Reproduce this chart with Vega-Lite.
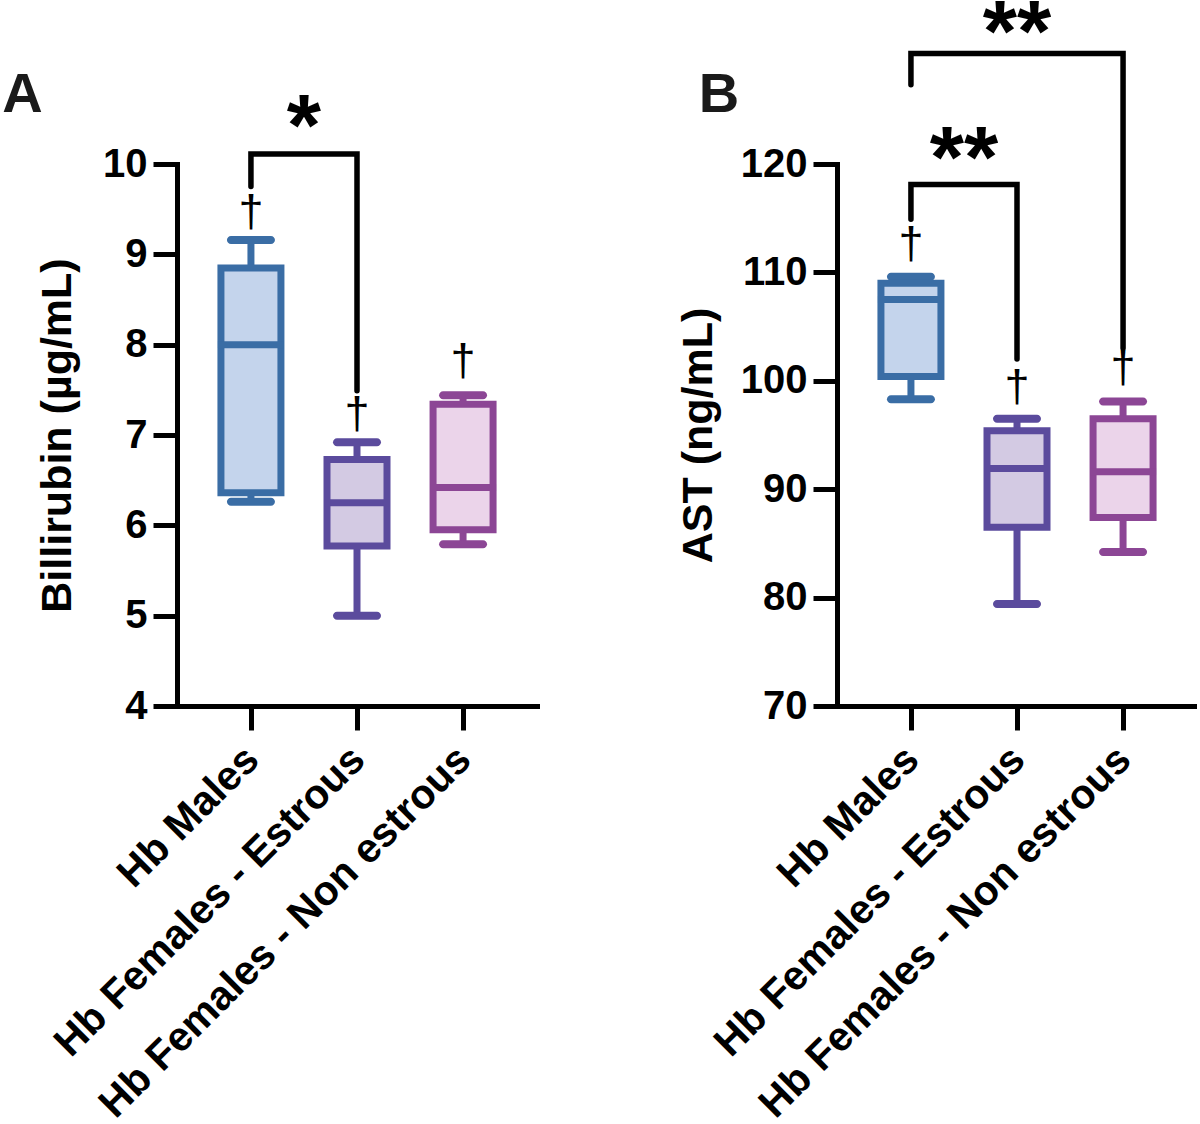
{
  "$schema": "https://vega.github.io/schema/vega-lite/v6.json",
  "background": "white",
  "padding": {"left": 2, "top": -9, "right": 0, "bottom": 0},
  "bounds": "flush",
  "spacing": 300,
  "config": {
    "view": {"stroke": null},
    "font": "Liberation Sans",
    "axis": {
      "domainColor": "black", "domainWidth": 5, "domainCap": "square",
      "tickColor": "black", "tickWidth": 5, "tickSize": 24,
      "labelFont": "Liberation Sans", "labelFontWeight": "bold", "labelFontSize": 40, "labelColor": "black", "labelPadding": 6,
      "titleFont": "Liberation Sans", "titleFontWeight": "bold", "titleFontSize": 43, "titleColor": "black",
      "grid": false, "labelLimit": 1000, "labelOverlap": false
    }
  },
  "datasets": {
    "boxesA": [
      {"g": 0, "group": "Hb Males", "min": 6.26, "q1": 6.36, "median": 8.0, "q3": 8.85, "max": 9.16},
      {"g": 1, "group": "Hb Females - Estrous", "min": 5.0, "q1": 5.77, "median": 6.25, "q3": 6.73, "max": 6.92},
      {"g": 2, "group": "Hb Females - Non estrous", "min": 5.79, "q1": 5.95, "median": 6.42, "q3": 7.34, "max": 7.44}
    ],
    "boxesB": [
      {"g": 0, "group": "Hb Males", "min": 98.3, "q1": 100.4, "median": 107.5, "q3": 109.0, "max": 109.6},
      {"g": 1, "group": "Hb Females - Estrous", "min": 79.4, "q1": 86.5, "median": 91.9, "q3": 95.4, "max": 96.5},
      {"g": 2, "group": "Hb Females - Non estrous", "min": 84.2, "q1": 87.4, "median": 91.6, "q3": 96.5, "max": 98.1}
    ],
    "textA": [
      {"g": 0, "v": 9.47, "label": "†"},
      {"g": 1, "v": 7.23, "label": "†"},
      {"g": 2, "v": 7.82, "label": "†"}
    ],
    "textB": [
      {"g": 0, "v": 112.6, "label": "†"},
      {"g": 1, "v": 99.4, "label": "†"},
      {"g": 2, "v": 101.2, "label": "†"}
    ],
    "bracketsA": [
      {"id": "a1", "ord": 1, "g": 0, "v": 9.75},
      {"id": "a1", "ord": 2, "g": 0, "v": 10.11},
      {"id": "a1", "ord": 3, "g": 1, "v": 10.11},
      {"id": "a1", "ord": 4, "g": 1, "v": 7.49}
    ],
    "bracketsB": [
      {"id": "b1", "ord": 1, "g": 0, "v": 114.9},
      {"id": "b1", "ord": 2, "g": 0, "v": 118.1},
      {"id": "b1", "ord": 3, "g": 1, "v": 118.1},
      {"id": "b1", "ord": 4, "g": 1, "v": 102.0},
      {"id": "b2", "ord": 1, "g": 0, "v": 127.3},
      {"id": "b2", "ord": 2, "g": 0, "v": 130.2},
      {"id": "b2", "ord": 3, "g": 2, "v": 130.2},
      {"id": "b2", "ord": 4, "g": 2, "v": 103.0}
    ],
    "starsA": [
      {"g": 0.5, "v": 10.39, "label": "*"}
    ],
    "starsB": [
      {"g": 0.5, "v": 120.3, "label": "**"},
      {"g": 1.0, "v": 131.9, "label": "**"}
    ],
    "letterA": [
      {"g": -2.345, "v": 10.58, "label": "A"}
    ],
    "letterB": [
      {"g": -2.0, "v": 124.8, "label": "B"}
    ]
  },
  "hconcat": [
    {
      "width": 360,
      "height": 542,
      "encoding": {
        "x": {
          "field": "g", "type": "quantitative",
          "scale": {"domain": [-0.65, 2.65], "nice": false, "zero": false},
          "axis": {
            "values": [0, 1, 2], "title": null, "labelAngle": -45,
            "labelFontSize": 41, "labelOffset": -13, "labelPadding": 9,
            "labelExpr": "['Hb Males', 'Hb Females - Estrous', 'Hb Females - Non estrous'][datum.value]"
          }
        }
      },
      "layer": [
        {
          "data": {"name": "boxesA"},
          "mark": {"type": "rule", "strokeWidth": 7},
          "encoding": {
            "y": {"field": "min", "type": "quantitative", "scale": {"domain": [4, 10], "nice": false, "zero": false},
                  "axis": {"values": [4, 5, 6, 7, 8, 9, 10], "title": "Billirubin (µg/mL)", "titlePadding": 23}},
            "y2": {"field": "q1"},
            "color": {"field": "group", "type": "nominal", "legend": null,
                      "scale": {"domain": ["Hb Males", "Hb Females - Estrous", "Hb Females - Non estrous"], "range": ["#3A6DA5", "#5B4B9D", "#8C4695"]}}
          }
        },
        {
          "data": {"name": "boxesA"},
          "mark": {"type": "rule", "strokeWidth": 7},
          "encoding": {
            "y": {"field": "q3", "type": "quantitative", "scale": {"domain": [4, 10], "nice": false, "zero": false},
                  "axis": {"values": [4, 5, 6, 7, 8, 9, 10], "title": "Billirubin (µg/mL)", "titlePadding": 23}},
            "y2": {"field": "max"},
            "color": {"field": "group", "type": "nominal", "legend": null}
          }
        },
        {
          "data": {"name": "boxesA"},
          "mark": {"type": "tick", "orient": "horizontal", "size": 48, "thickness": 8, "cornerRadius": 4, "opacity": 1},
          "encoding": {
            "y": {"field": "min", "type": "quantitative", "scale": {"domain": [4, 10], "nice": false, "zero": false},
                  "axis": {"values": [4, 5, 6, 7, 8, 9, 10], "title": "Billirubin (µg/mL)", "titlePadding": 23}},
            "color": {"field": "group", "type": "nominal", "legend": null}
          }
        },
        {
          "data": {"name": "boxesA"},
          "mark": {"type": "tick", "orient": "horizontal", "size": 48, "thickness": 8, "cornerRadius": 4, "opacity": 1},
          "encoding": {
            "y": {"field": "max", "type": "quantitative", "scale": {"domain": [4, 10], "nice": false, "zero": false},
                  "axis": {"values": [4, 5, 6, 7, 8, 9, 10], "title": "Billirubin (µg/mL)", "titlePadding": 23}},
            "color": {"field": "group", "type": "nominal", "legend": null}
          }
        },
        {
          "data": {"name": "boxesA"},
          "mark": {"type": "bar", "width": 60, "strokeWidth": 7, "opacity": 1, "fillOpacity": 1},
          "encoding": {
            "y": {"field": "q1", "type": "quantitative", "scale": {"domain": [4, 10], "nice": false, "zero": false},
                  "axis": {"values": [4, 5, 6, 7, 8, 9, 10], "title": "Billirubin (µg/mL)", "titlePadding": 23}},
            "y2": {"field": "q3"},
            "fill": {"field": "group", "type": "nominal", "legend": null,
                     "scale": {"domain": ["Hb Males", "Hb Females - Estrous", "Hb Females - Non estrous"], "range": ["#C4D4EC", "#D3CAE3", "#EBD4EA"]}},
            "stroke": {"field": "group", "type": "nominal", "legend": null,
                       "scale": {"domain": ["Hb Males", "Hb Females - Estrous", "Hb Females - Non estrous"], "range": ["#3A6DA5", "#5B4B9D", "#8C4695"]}}
          }
        },
        {
          "data": {"name": "boxesA"},
          "mark": {"type": "tick", "orient": "horizontal", "size": 66, "thickness": 7, "opacity": 1},
          "encoding": {
            "y": {"field": "median", "type": "quantitative", "scale": {"domain": [4, 10], "nice": false, "zero": false},
                  "axis": {"values": [4, 5, 6, 7, 8, 9, 10], "title": "Billirubin (µg/mL)", "titlePadding": 23}},
            "color": {"field": "group", "type": "nominal", "legend": null}
          }
        },
        {
          "data": {"name": "textA"},
          "mark": {"type": "text", "fontSize": 45, "font": "Liberation Sans", "baseline": "middle", "color": "black"},
          "encoding": {
            "y": {"field": "v", "type": "quantitative", "scale": {"domain": [4, 10], "nice": false, "zero": false},
                  "axis": {"values": [4, 5, 6, 7, 8, 9, 10], "title": "Billirubin (µg/mL)", "titlePadding": 23}},
            "text": {"field": "label"}
          }
        },
        {
          "data": {"name": "bracketsA"},
          "mark": {"type": "line", "strokeWidth": 5.5, "color": "black", "strokeCap": "round", "strokeJoin": "miter"},
          "encoding": {
            "y": {"field": "v", "type": "quantitative", "scale": {"domain": [4, 10], "nice": false, "zero": false},
                  "axis": {"values": [4, 5, 6, 7, 8, 9, 10], "title": "Billirubin (µg/mL)", "titlePadding": 23}},
            "detail": {"field": "id"},
            "order": {"field": "ord"}
          }
        },
        {
          "data": {"name": "starsA"},
          "mark": {"type": "text", "fontSize": 88, "fontWeight": "bold", "font": "Liberation Sans", "baseline": "middle", "color": "black"},
          "encoding": {
            "y": {"field": "v", "type": "quantitative", "scale": {"domain": [4, 10], "nice": false, "zero": false},
                  "axis": {"values": [4, 5, 6, 7, 8, 9, 10], "title": "Billirubin (µg/mL)", "titlePadding": 23}},
            "text": {"field": "label"}
          }
        },
        {
          "data": {"name": "letterA"},
          "mark": {"type": "text", "fontSize": 56, "fontWeight": "bold", "font": "Liberation Sans", "baseline": "alphabetic", "align": "left", "color": "#1a1a1a"},
          "encoding": {
            "y": {"field": "v", "type": "quantitative", "scale": {"domain": [4, 10], "nice": false, "zero": false},
                  "axis": {"values": [4, 5, 6, 7, 8, 9, 10], "title": "Billirubin (µg/mL)", "titlePadding": 23}},
            "text": {"field": "label"}
          }
        }
      ]
    },
    {
      "width": 360,
      "height": 542,
      "encoding": {
        "x": {
          "field": "g", "type": "quantitative",
          "scale": {"domain": [-0.65, 2.65], "nice": false, "zero": false},
          "axis": {
            "values": [0, 1, 2], "title": null, "labelAngle": -45,
            "labelFontSize": 41, "labelOffset": -13, "labelPadding": 9,
            "labelExpr": "['Hb Males', 'Hb Females - Estrous', 'Hb Females - Non estrous'][datum.value]"
          }
        }
      },
      "layer": [
        {
          "data": {"name": "boxesB"},
          "mark": {"type": "rule", "strokeWidth": 7},
          "encoding": {
            "y": {"field": "min", "type": "quantitative", "scale": {"domain": [70, 120], "nice": false, "zero": false},
                  "axis": {"values": [70, 80, 90, 100, 110, 120], "title": "AST (ng/mL)", "titlePadding": 20}},
            "y2": {"field": "q1"},
            "color": {"field": "group", "type": "nominal", "legend": null,
                      "scale": {"domain": ["Hb Males", "Hb Females - Estrous", "Hb Females - Non estrous"], "range": ["#3A6DA5", "#5B4B9D", "#8C4695"]}}
          }
        },
        {
          "data": {"name": "boxesB"},
          "mark": {"type": "rule", "strokeWidth": 7},
          "encoding": {
            "y": {"field": "q3", "type": "quantitative", "scale": {"domain": [70, 120], "nice": false, "zero": false},
                  "axis": {"values": [70, 80, 90, 100, 110, 120], "title": "AST (ng/mL)", "titlePadding": 20}},
            "y2": {"field": "max"},
            "color": {"field": "group", "type": "nominal", "legend": null}
          }
        },
        {
          "data": {"name": "boxesB"},
          "mark": {"type": "tick", "orient": "horizontal", "size": 48, "thickness": 8, "cornerRadius": 4, "opacity": 1},
          "encoding": {
            "y": {"field": "min", "type": "quantitative", "scale": {"domain": [70, 120], "nice": false, "zero": false},
                  "axis": {"values": [70, 80, 90, 100, 110, 120], "title": "AST (ng/mL)", "titlePadding": 20}},
            "color": {"field": "group", "type": "nominal", "legend": null}
          }
        },
        {
          "data": {"name": "boxesB"},
          "mark": {"type": "tick", "orient": "horizontal", "size": 48, "thickness": 8, "cornerRadius": 4, "opacity": 1},
          "encoding": {
            "y": {"field": "max", "type": "quantitative", "scale": {"domain": [70, 120], "nice": false, "zero": false},
                  "axis": {"values": [70, 80, 90, 100, 110, 120], "title": "AST (ng/mL)", "titlePadding": 20}},
            "color": {"field": "group", "type": "nominal", "legend": null}
          }
        },
        {
          "data": {"name": "boxesB"},
          "mark": {"type": "bar", "width": 60, "strokeWidth": 7, "opacity": 1, "fillOpacity": 1},
          "encoding": {
            "y": {"field": "q1", "type": "quantitative", "scale": {"domain": [70, 120], "nice": false, "zero": false},
                  "axis": {"values": [70, 80, 90, 100, 110, 120], "title": "AST (ng/mL)", "titlePadding": 20}},
            "y2": {"field": "q3"},
            "fill": {"field": "group", "type": "nominal", "legend": null,
                     "scale": {"domain": ["Hb Males", "Hb Females - Estrous", "Hb Females - Non estrous"], "range": ["#C4D4EC", "#D3CAE3", "#EBD4EA"]}},
            "stroke": {"field": "group", "type": "nominal", "legend": null,
                       "scale": {"domain": ["Hb Males", "Hb Females - Estrous", "Hb Females - Non estrous"], "range": ["#3A6DA5", "#5B4B9D", "#8C4695"]}}
          }
        },
        {
          "data": {"name": "boxesB"},
          "mark": {"type": "tick", "orient": "horizontal", "size": 66, "thickness": 7, "opacity": 1},
          "encoding": {
            "y": {"field": "median", "type": "quantitative", "scale": {"domain": [70, 120], "nice": false, "zero": false},
                  "axis": {"values": [70, 80, 90, 100, 110, 120], "title": "AST (ng/mL)", "titlePadding": 20}},
            "color": {"field": "group", "type": "nominal", "legend": null}
          }
        },
        {
          "data": {"name": "textB"},
          "mark": {"type": "text", "fontSize": 45, "font": "Liberation Sans", "baseline": "middle", "color": "black"},
          "encoding": {
            "y": {"field": "v", "type": "quantitative", "scale": {"domain": [70, 120], "nice": false, "zero": false},
                  "axis": {"values": [70, 80, 90, 100, 110, 120], "title": "AST (ng/mL)", "titlePadding": 20}},
            "text": {"field": "label"}
          }
        },
        {
          "data": {"name": "bracketsB"},
          "mark": {"type": "line", "strokeWidth": 5.5, "color": "black", "strokeCap": "round", "strokeJoin": "miter"},
          "encoding": {
            "y": {"field": "v", "type": "quantitative", "scale": {"domain": [70, 120], "nice": false, "zero": false},
                  "axis": {"values": [70, 80, 90, 100, 110, 120], "title": "AST (ng/mL)", "titlePadding": 20}},
            "detail": {"field": "id"},
            "order": {"field": "ord"}
          }
        },
        {
          "data": {"name": "starsB"},
          "mark": {"type": "text", "fontSize": 88, "fontWeight": "bold", "font": "Liberation Sans", "baseline": "middle", "color": "black"},
          "encoding": {
            "y": {"field": "v", "type": "quantitative", "scale": {"domain": [70, 120], "nice": false, "zero": false},
                  "axis": {"values": [70, 80, 90, 100, 110, 120], "title": "AST (ng/mL)", "titlePadding": 20}},
            "text": {"field": "label"}
          }
        },
        {
          "data": {"name": "letterB"},
          "mark": {"type": "text", "fontSize": 56, "fontWeight": "bold", "font": "Liberation Sans", "baseline": "alphabetic", "align": "left", "color": "#1a1a1a"},
          "encoding": {
            "y": {"field": "v", "type": "quantitative", "scale": {"domain": [70, 120], "nice": false, "zero": false},
                  "axis": {"values": [70, 80, 90, 100, 110, 120], "title": "AST (ng/mL)", "titlePadding": 20}},
            "text": {"field": "label"}
          }
        }
      ]
    }
  ]
}
